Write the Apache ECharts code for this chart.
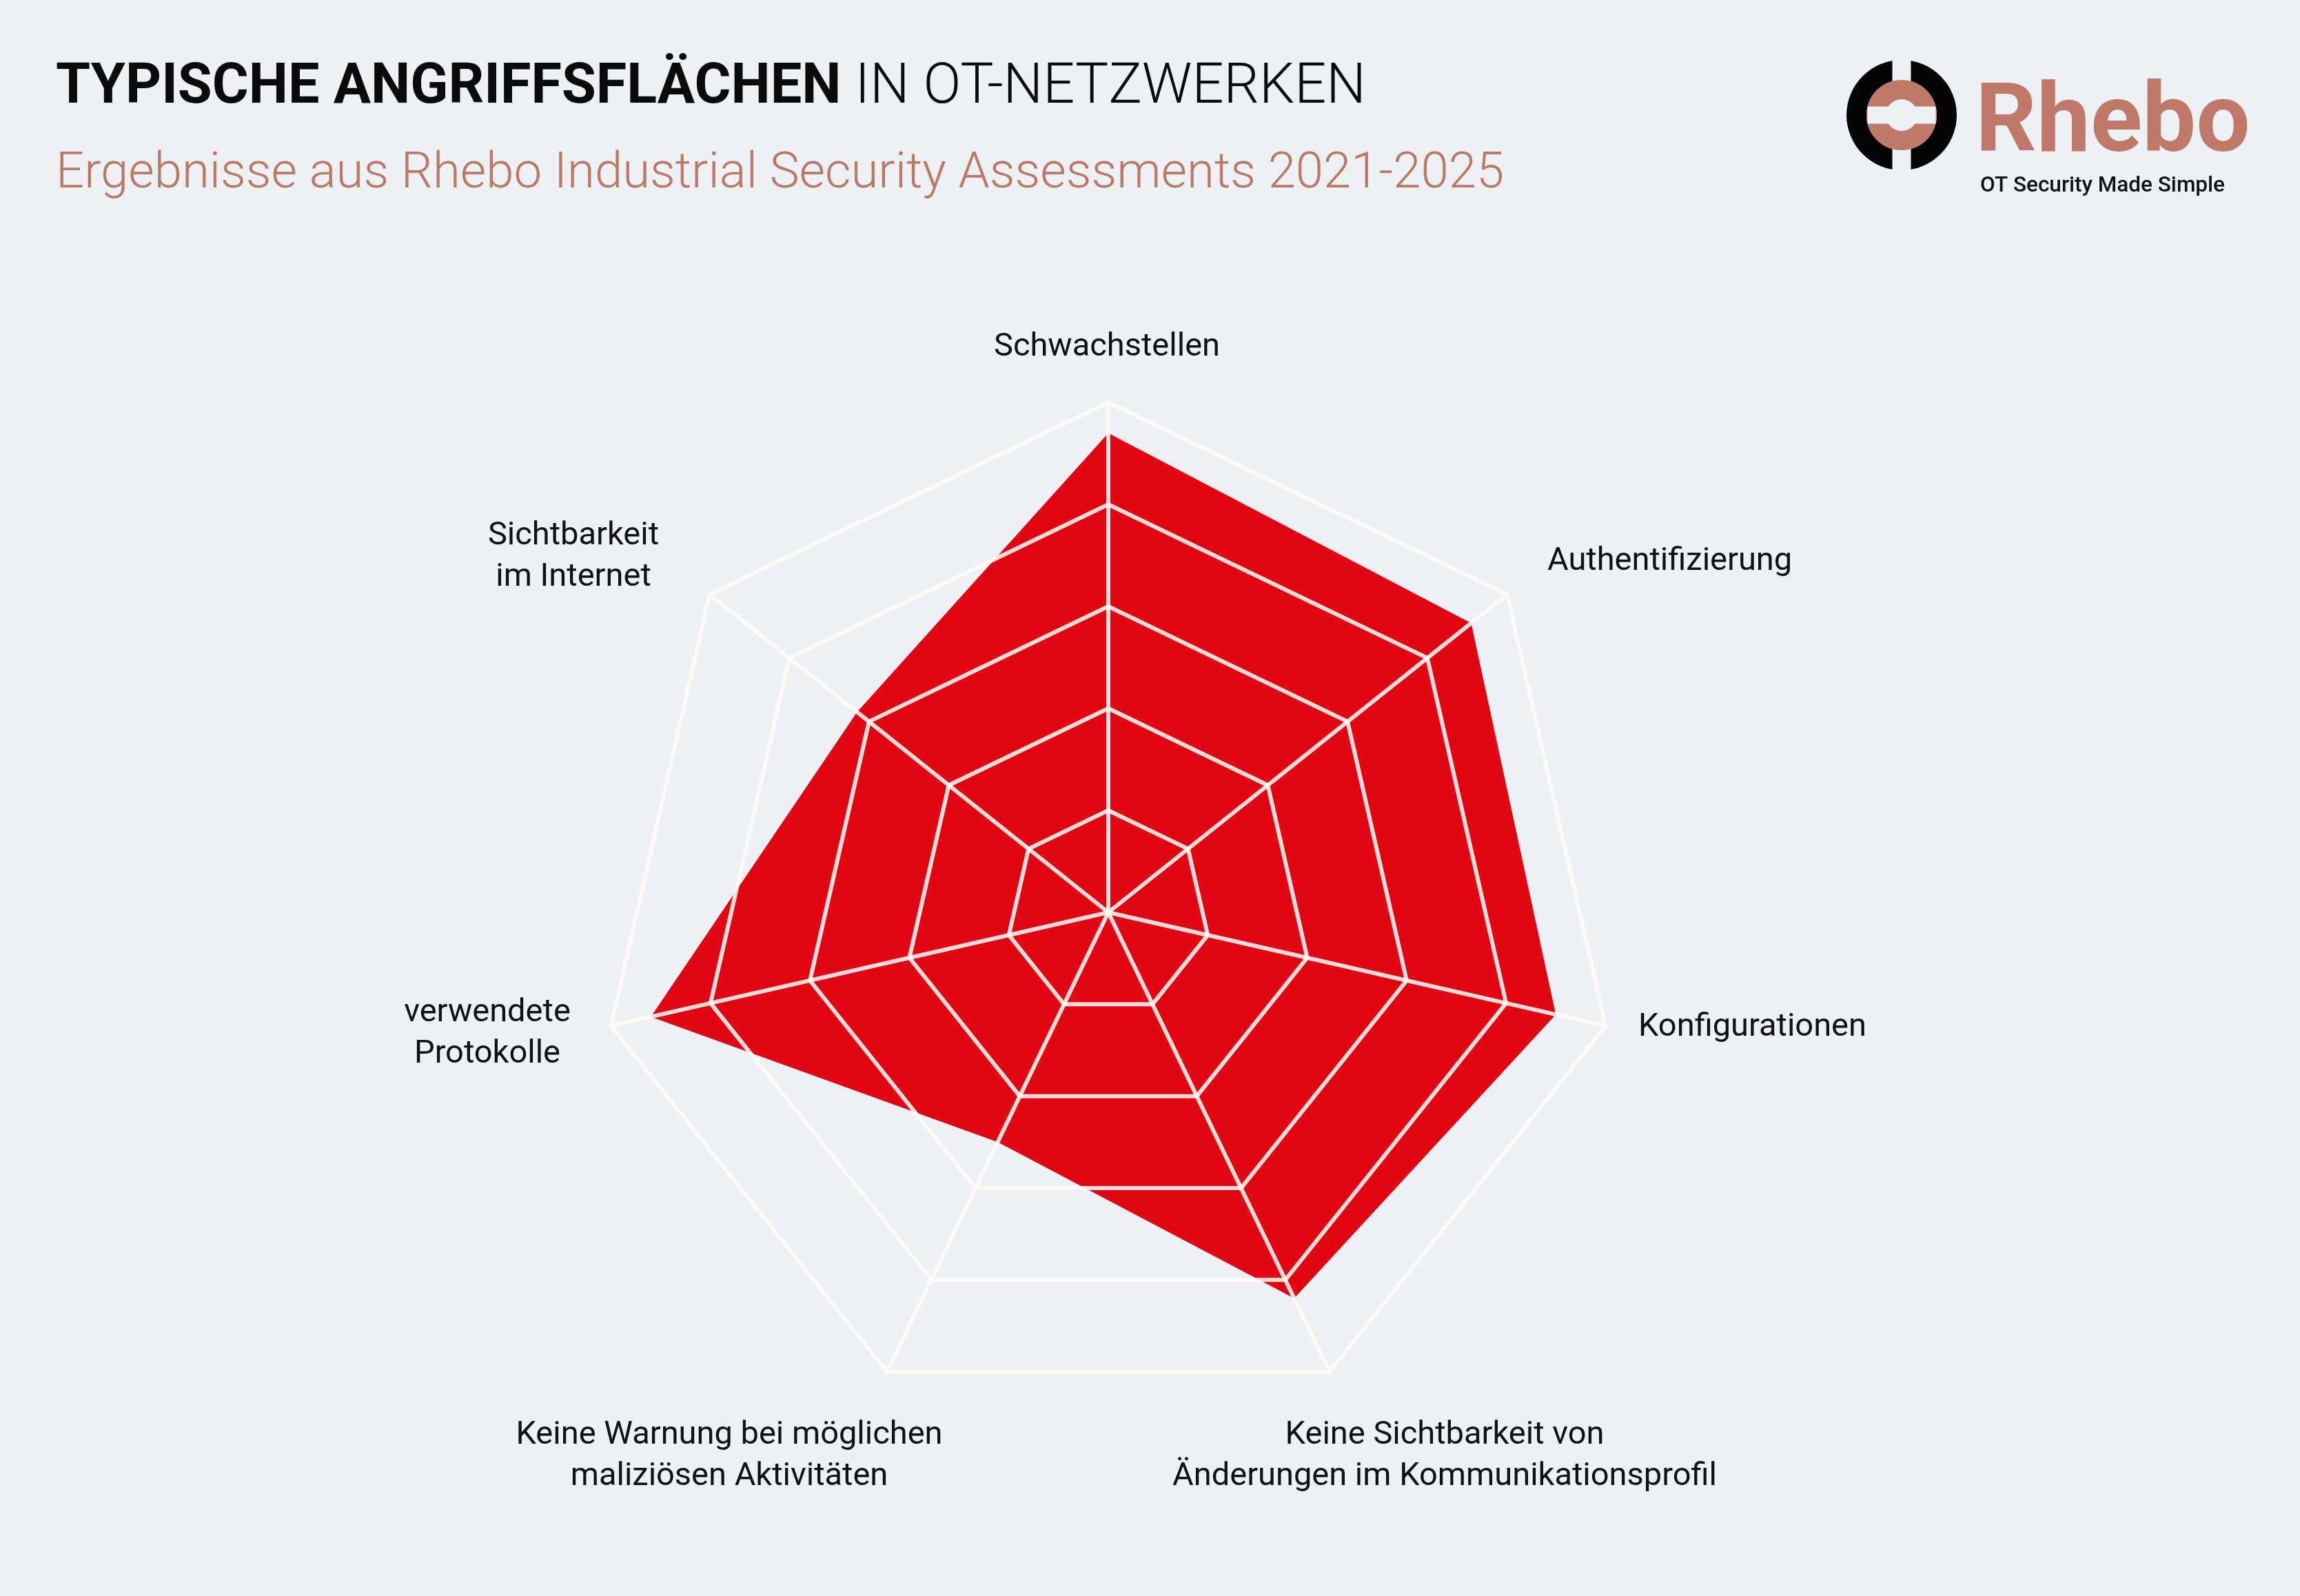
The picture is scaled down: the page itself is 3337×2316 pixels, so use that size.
<!DOCTYPE html>
<html>
<head>
<meta charset="utf-8">
<script src="https://cdn.jsdelivr.net/npm/echarts@6/dist/echarts.min.js"></script>
<style>
html,body{margin:0;padding:0;background:#edf0f5;}
#chart{width:3337px;height:2316px;}
</style>
</head>
<body>
<div id="chart"></div>
<script>
// Indicators in ECharts radar order (counter-clockwise, starting at the top)
const categories = [
  'Schwachstellen',
  'Sichtbarkeit\nim Internet',
  'verwendete\nProtokolle',
  'Keine Warnung bei möglichen\nmaliziösen Aktivitäten',
  'Keine Sichtbarkeit von\nÄnderungen im Kommunikationsprofil',
  'Konfigurationen',
  'Authentifizierung'
];
const values = [94, 63, 92, 50, 84, 90, 91];
const axisMin = 0;
const axisMax = 100;
const titleBold = 'TYPISCHE ANGRIFFSFLÄCHEN';
const titleLight = 'IN OT-NETZWERKEN';
const subtitle = 'Ergebnisse aus Rhebo Industrial Security Assessments 2021-2025';
const brandName = 'Rhebo';
const brandClaim = 'OT Security Made Simple';

// Layout (kept apart from the data)
const labelLayout = [
  {x: 1606, y: 504, align: 'center'},
  {x: 832, y: 808, align: 'center'},
  {x: 707, y: 1500, align: 'center'},
  {x: 1058, y: 2113, align: 'center'},
  {x: 2096, y: 2113, align: 'center'},
  {x: 2377, y: 1491, align: 'left'},
  {x: 2245, y: 815, align: 'left'}
];
const BG = '#edf0f5';
const RED = '#e20613';
const BROWN = '#c07968';
const GRID = 'rgba(255,250,245,0.88)';
const FONT = 'Roboto, "Noto Sans", sans-serif';

const chart = echarts.init(document.getElementById('chart'), null, {renderer: 'canvas', width: 3337, height: 2316});

const graphics = [];
// Title
graphics.push({
  type: 'text', x: 81, y: 129, z: 10,
  style: {
    text: '{b|' + titleBold + '} {l|' + titleLight + '}',
    verticalAlign: 'middle', align: 'left',
    rich: {
      b: {fontFamily: FONT, fontWeight: 700, fontSize: 81, fill: '#0b0b0b', color: '#0b0b0b'},
      l: {fontFamily: FONT, fontWeight: 300, fontSize: 81, fill: '#0b0b0b', color: '#0b0b0b'}
    },
    fontFamily: FONT, fontSize: 81
  }
});
graphics.push({
  type: 'text', x: 81, y: 254, z: 10,
  style: {text: subtitle, fontFamily: FONT, fontWeight: 300, fontSize: 72.5, fill: '#bb7862', verticalAlign: 'middle', align: 'left'}
});
// Axis labels
categories.forEach(function (name, i) {
  const p = labelLayout[i];
  graphics.push({
    type: 'text', x: p.x, y: p.y, z: 10,
    style: {text: name, fontFamily: FONT, fontWeight: 400, fontSize: 47, lineHeight: 60, fill: '#111111', align: p.align, verticalAlign: 'middle'}
  });
});
// Logo emblem
const lx = 2759, ly = 167;
graphics.push({type: 'ring', z: 20, shape: {cx: lx, cy: ly, r: 80, r0: 51}, style: {fill: '#050505'}});
graphics.push({type: 'rect', z: 21, shape: {x: lx - 13.5, y: ly - 90, width: 27, height: 180}, style: {fill: BG}});
graphics.push({type: 'circle', z: 22, shape: {cx: lx, cy: ly, r: 51}, style: {fill: BROWN}});
graphics.push({type: 'rect', z: 23, shape: {x: lx - 49.5, y: ly - 12.5, width: 99, height: 25}, style: {fill: BG}});
graphics.push({type: 'circle', z: 24, shape: {cx: lx, cy: ly, r: 23}, style: {fill: BG}});
graphics.push({
  type: 'text', x: 2866, y: 184, z: 20,
  style: {text: brandName, fontFamily: FONT, fontWeight: 700, fontSize: 139, fill: BROWN, align: 'left', verticalAlign: 'middle'}
});
graphics.push({
  type: 'text', x: 2873, y: 270, z: 20,
  style: {text: brandClaim, fontFamily: FONT, fontWeight: 500, fontSize: 31.5, fill: '#111111', align: 'left', verticalAlign: 'middle'}
});

chart.setOption({
  backgroundColor: BG,
  animation: false,
  graphic: graphics,
  radar: {
    z: 3,
    center: [1608, 1324],
    radius: 740,
    startAngle: 90,
    splitNumber: 5,
    shape: 'polygon',
    indicator: categories.map(function (n) { return {name: n, min: axisMin, max: axisMax}; }),
    axisName: {show: false},
    axisLine: {show: true, lineStyle: {color: GRID, width: 6}},
    splitLine: {show: true, lineStyle: {color: GRID, width: 6}},
    splitArea: {show: false},
    axisTick: {show: false},
    axisLabel: {show: false}
  },
  series: [{
    type: 'radar',
    z: 2,
    silent: true,
    symbol: 'none',
    lineStyle: {width: 0, opacity: 0},
    areaStyle: {color: RED, opacity: 1},
    data: [{value: values, name: 'Angriffsflächen'}]
  }]
});
</script>
</body>
</html>
